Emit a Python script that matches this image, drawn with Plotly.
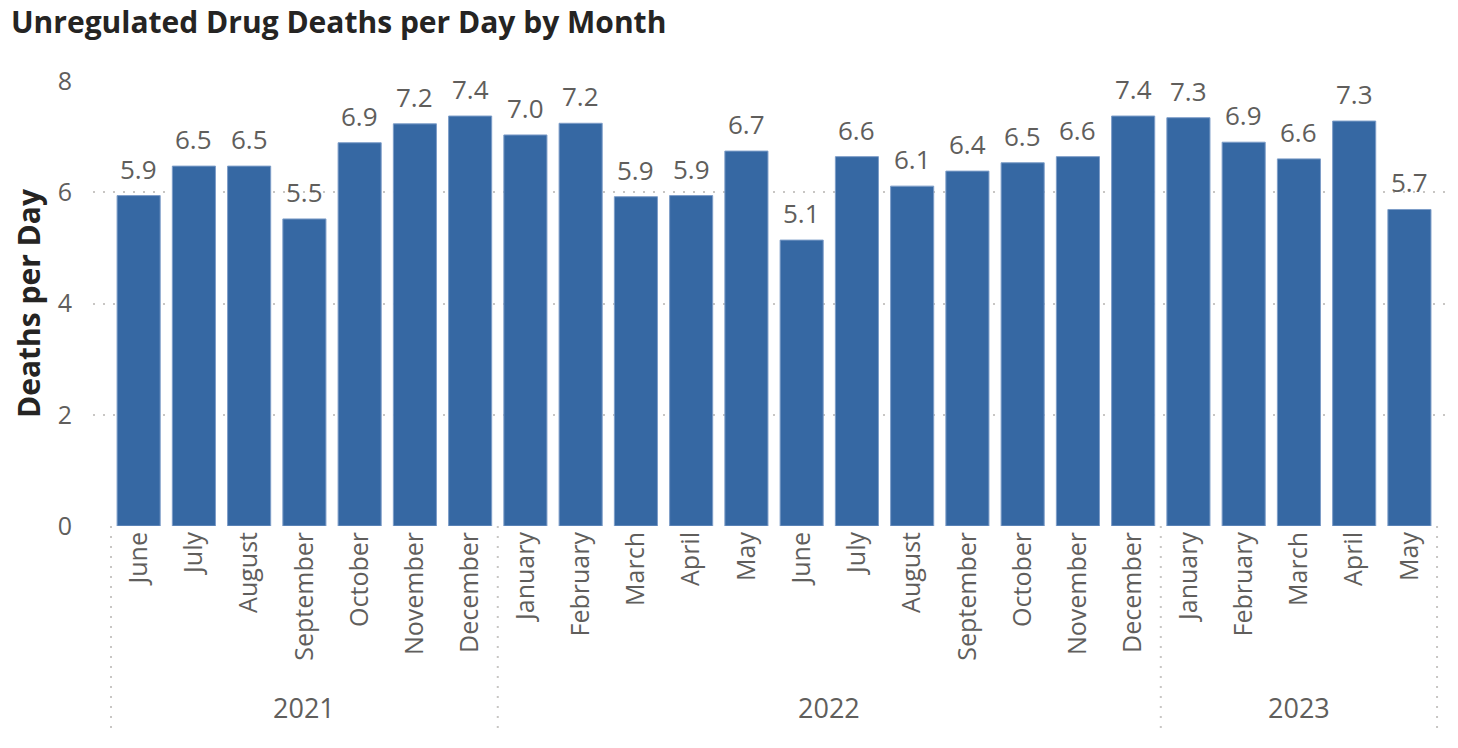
import plotly.graph_objects as go

months = ["June", "July", "August", "September", "October", "November", "December",
          "January", "February", "March", "April", "May", "June", "July", "August",
          "September", "October", "November", "December",
          "January", "February", "March", "April", "May"]
years = [2021] * 7 + [2022] * 12 + [2023] * 5
deaths_per_day = [5.94, 6.47, 6.47, 5.52, 6.89, 7.23, 7.37,
                  7.03, 7.24, 5.92, 5.94, 6.74, 5.14, 6.64, 6.11, 6.38, 6.53, 6.64, 7.37,
                  7.34, 6.90, 6.60, 7.28, 5.69]
year_labels = ["2021", "2022", "2023"]

FONT = "Open Sans"
GRAY = "#605E5C"
DOT = "#C8C6C4"
idx = list(range(len(months)))

fig = go.Figure(go.Bar(
    x=idx, y=deaths_per_day,
    marker=dict(color="#3668A3", line=dict(color="#7D9DC8", width=1)),
    width=0.78,
    hoverinfo="skip",
))

shapes = []
annotations = []
# data labels
for i, v in zip(idx, deaths_per_day):
    annotations.append(dict(xref="x", yref="y", x=i, y=v, text=f"{v:.1f}", showarrow=False,
                            yanchor="bottom", yshift=7,
                            font=dict(family=FONT, size=26, color=GRAY)))
# year group boundaries and labels
bounds = []
start = 0
for i in range(1, len(years) + 1):
    if i == len(years) or years[i] != years[i - 1]:
        bounds.append((start, i - 1))
        start = i
edges = [-0.5] + [b[1] + 0.5 for b in bounds]
for e in edges:
    shapes.append(dict(type="line", xref="x", yref="paper", x0=e, x1=e, y0=0, y1=-0.455,
                       line=dict(color=DOT, width=2, dash="2px,8px")))
for (s, e), lab in zip(bounds, year_labels):
    annotations.append(dict(xref="x", yref="paper", x=(s + e) / 2, y=-0.407, text=lab,
                            showarrow=False, font=dict(family=FONT, size=27, color=GRAY),
                            yanchor="middle"))

fig.update_layout(
    width=1450, height=740,
    margin=dict(l=85, r=11, t=73, b=222, autoexpand=False),
    paper_bgcolor="white", plot_bgcolor="white",
    title=dict(text="<b>Unregulated Drug Deaths per Day by Month</b>",
               font=dict(family=FONT, size=30, color="#252423"),
               x=0.002, xanchor="left", xref="container", y=0.994, yanchor="top",
               automargin=False),
    showlegend=False,
    shapes=shapes,
    annotations=annotations,
    xaxis=dict(
        tickmode="array", tickvals=idx, ticktext=months, tickangle=-90,
        range=[-0.826, 23.68], automargin=False,
        tickfont=dict(family=FONT, size=25, color=GRAY),
        showgrid=False, zeroline=False, showline=False, ticks="",
    ),
    yaxis=dict(
        range=[0, 8], tickvals=[0, 2, 4, 6, 8], automargin=False,
        tickfont=dict(family=FONT, size=25, color=GRAY),
        showgrid=True, gridcolor=DOT, griddash="2px,8px", gridwidth=2,
        zeroline=False, showline=False, ticks="", ticklabelstandoff=20,
        title=dict(text="<b>Deaths per Day</b>", font=dict(family=FONT, size=30, color="#252423"),
                   standoff=22),
    ),
)

fig.write_html("out.html")
